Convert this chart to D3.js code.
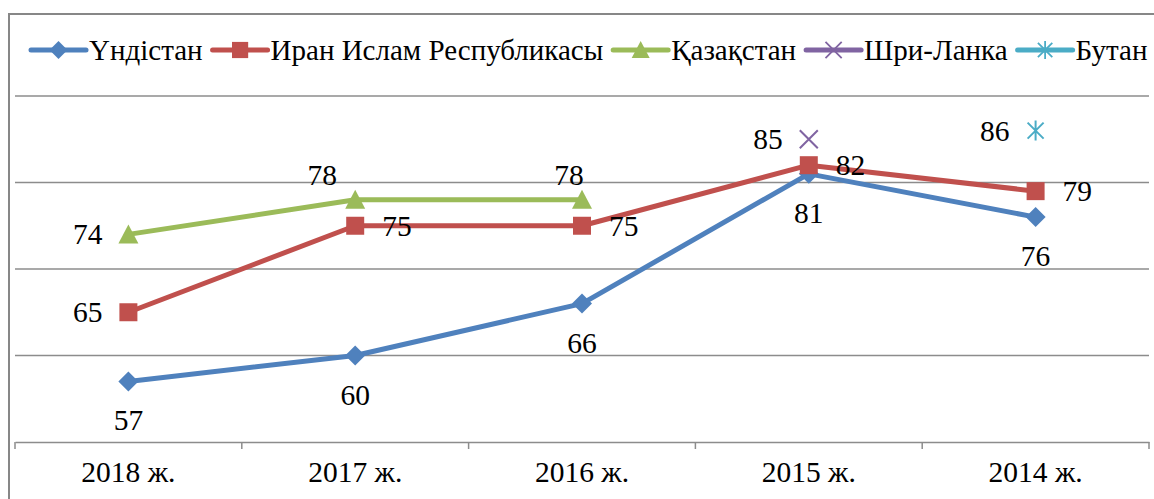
<!DOCTYPE html>
<html>
<head>
<meta charset="utf-8">
<script src="https://cdn.jsdelivr.net/npm/d3@7"></script>
<style>
  body { margin: 0; background: #fff; }
</style>
</head>
<body>
<svg id="chart" width="1154" height="499"></svg>
<script>
// data
var years = ["2018 ж.", "2017 ж.", "2016 ж.", "2015 ж.", "2014 ж."];
var seriesNames = ["Үндістан", "Иран Ислам Республикасы", "Қазақстан", "Шри-Ланка", "Бутан"];
var india = [57, 60, 66, 81, 76];
var iran = [65, 75, 75, 82, 79];
var kazakhstan = [74, 78, 78, null, null];
var sriLanka = [null, null, null, 85, null];
var bhutan = [null, null, null, null, 86];
var yTicks = [50, 60, 70, 80, 90];

var colors = ["#4f81bd", "#c0504d", "#9bbb59", "#8064a2", "#4bacc6"];
var symbols = ["diamond", "square", "triangle", "cross", "star"];
// where each data label sits relative to its point
var labelPos = [
  ["below", "below", "below", "below", "below"],
  ["left", "right", "right", "right", "right"],
  ["left", "above", "above", null, null],
  [null, null, null, "left", null],
  [null, null, null, null, "left"]
];
var labelNudge = [0, -33, -13, 0, 0]; // kazakhstan labels were dragged a bit left

var FONT = "'Liberation Serif', 'Times New Roman', serif";
var FS = 29.5;
var LEGEND_FS = 29;

var series = [india, iran, kazakhstan, sriLanka, bhutan].map(function(v, i) {
  return { name: seriesNames[i], values: v, color: colors[i], symbol: symbols[i], pos: labelPos[i] };
});

var svg = d3.select("#chart"),
    margin = {top: 96, right: 5, bottom: 57, left: 15},
    width = +svg.attr("width") - margin.left - margin.right,
    height = +svg.attr("height") - margin.top - margin.bottom;

var x = d3.scaleBand().domain(years).range([margin.left, margin.left + width]);
var y = d3.scaleLinear().domain([50, 90]).range([margin.top + height, margin.top]);
var cx = function(i) { return x(years[i]) + x.bandwidth() / 2; };

// outer frame (top and left edges are the only ones visible)
svg.append("path")
    .attr("d", "M9,499V14H1154")
    .attr("fill", "none")
    .attr("stroke", "#878787")
    .attr("stroke-width", 2);

// gridlines
svg.append("g")
  .selectAll("line")
  .data(yTicks.slice(1))
  .enter().append("line")
    .attr("x1", margin.left)
    .attr("x2", margin.left + width)
    .attr("y1", function(d) { return y(d); })
    .attr("y2", function(d) { return y(d); })
    .attr("stroke", "#8c8c8c")
    .attr("stroke-width", 1.3);

// x axis
var axis = svg.append("g")
    .attr("transform", "translate(0," + y(50) + ")")
    .call(d3.axisBottom(x).tickSize(0).tickPadding(19));
axis.select(".domain").attr("stroke", "#8c8c8c").attr("stroke-width", 1.5);
axis.selectAll("text")
    .attr("fill", "#000")
    .style("font-size", FS + "px")
    .style("font-family", FONT);

axis.selectAll(".bound")
  .data(years.concat(["end"]))
  .enter().append("line")
    .attr("class", "bound")
    .attr("x1", function(d, i) { return margin.left + i * x.step(); })
    .attr("x2", function(d, i) { return margin.left + i * x.step(); })
    .attr("y1", 0)
    .attr("y2", 7)
    .attr("stroke", "#8c8c8c")
    .attr("stroke-width", 1.5);

function markerPath(sym) {
  if (sym == "diamond") return "M0,-10L10,0L0,10L-10,0Z";
  if (sym == "square") return "M-9,-9H9V9H-9Z";
  if (sym == "triangle") return "M0,-10L10,9H-10Z";
  if (sym == "cross") return "M-9,-9L9,9M9,-9L-9,9";
  return "M-8,-8L8,8M8,-8L-8,8M0,-10V10";
}

function drawMarker(g, s) {
  var filled = s.symbol == "diamond" || s.symbol == "square" || s.symbol == "triangle";
  g.append("path")
      .attr("d", markerPath(s.symbol))
      .attr("fill", filled ? s.color : "none")
      .attr("stroke", s.color)
      .attr("stroke-width", filled ? 0 : 2);
}

var line = d3.line()
    .defined(function(d) { return d != null; })
    .x(function(d, i) { return cx(i); })
    .y(function(d) { return y(d); });

series.forEach(function(s) {
  svg.append("path")
      .attr("d", line(s.values))
      .attr("fill", "none")
      .attr("stroke", s.color)
      .attr("stroke-width", 5)
      .attr("stroke-linejoin", "round");

  s.values.forEach(function(v, i) {
    if (v == null) return;
    var g = svg.append("g").attr("transform", "translate(" + cx(i) + "," + y(v) + ")");
    drawMarker(g, s);
  });
});

// data labels on top
series.forEach(function(s, si) {
  s.values.forEach(function(v, i) {
    if (v == null) return;
    var px = cx(i), py = y(v), t = svg.append("text")
        .style("font-family", FONT)
        .style("font-size", FS + "px")
        .attr("fill", "#000")
        .text(v);
    if (s.pos[i] == "below") t.attr("x", px).attr("y", py + 49).attr("text-anchor", "middle");
    if (s.pos[i] == "above") t.attr("x", px + (si == 2 ? labelNudge[i] : 0)).attr("y", py - 15).attr("text-anchor", "middle");
    if (s.pos[i] == "left") t.attr("x", px - 26).attr("y", py + 10).attr("text-anchor", "end");
    if (s.pos[i] == "right") t.attr("x", px + 27).attr("y", py + 10).attr("text-anchor", "start");
  });
});

// legend
var legend = svg.append("g").attr("transform", "translate(0,50)");
var lx = 31;
series.forEach(function(s) {
  var item = legend.append("g").attr("transform", "translate(" + lx + ",0)");
  item.append("line")
      .attr("x1", 0).attr("x2", 55)
      .attr("stroke", s.color)
      .attr("stroke-width", 5)
      .attr("stroke-linecap", "round");
  var m = item.append("g").attr("transform", "translate(27.5,0) scale(0.9)");
  drawMarker(m, s);
  var t = item.append("text")
      .attr("x", 58)
      .attr("y", 10)
      .style("font-family", FONT)
      .style("font-size", LEGEND_FS + "px")
      .attr("fill", "#000")
      .text(s.name);
  lx += 58 + t.node().getComputedTextLength() + 10;
});
</script>
</body>
</html>
